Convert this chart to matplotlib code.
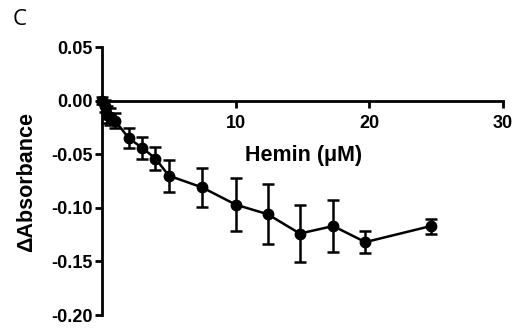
import matplotlib.pyplot as plt

plt.rcParams['font.family'] = ['Liberation Sans', 'DejaVu Sans']

# hemin titration: concentration (uM), change in absorbance, SEM
hemin = [0.0, 0.2, 0.4, 0.6, 1.0, 2.0, 3.0, 4.0, 5.0, 7.5, 10.0, 12.4, 14.8, 17.3, 19.7, 24.6]
d_abs = [0.0, -0.005, -0.013, -0.015, -0.019, -0.035, -0.044, -0.054, -0.070,
         -0.081, -0.097, -0.106, -0.124, -0.117, -0.132, -0.117]
sem = [0.003, 0.006, 0.008, 0.008, 0.007, 0.009, 0.010, 0.011, 0.015,
       0.018, 0.025, 0.028, 0.027, 0.024, 0.010, 0.007]

fig = plt.figure(figsize=(5.27, 3.28), dpi=100)
ax = fig.add_axes([0.1935, 0.0396, 0.761, 0.817])

ax.errorbar(hemin, d_abs, yerr=sem, fmt='-o', color='black', lw=1.8,
            ms=7.5, elinewidth=1.8, capsize=4, capthick=1.8, clip_on=False, zorder=3)

ax.set_xlim(0, 30)
ax.set_ylim(-0.20, 0.05)
ax.set_xticks([0, 10, 20, 30])
ax.set_xticklabels(['', '10', '20', '30'])
ax.set_yticks([0.05, 0.0, -0.05, -0.10, -0.15, -0.20])
ax.set_yticklabels(['0.05', '0.00', '-0.05', '-0.10', '-0.15', '-0.20'])

ax.spines['bottom'].set_position(('data', 0))
ax.spines['top'].set_visible(False)
ax.spines['right'].set_visible(False)
for s in ('left', 'bottom'):
    ax.spines[s].set_linewidth(2)
ax.tick_params(width=2, length=5, labelsize=13)
ax.tick_params(axis='x', pad=5)
ax.tick_params(axis='y', pad=2)
for lab in ax.get_xticklabels() + ax.get_yticklabels():
    lab.set_fontweight('bold')

ax.text(15.1, -0.051, 'Hemin (\u03bcM)', ha='center', va='center',
        fontsize=15.5, fontweight='bold')
ax.text(-0.187, 0.496, '\u0394Absorbance', transform=ax.transAxes, rotation=90,
        ha='center', va='center', fontsize=15.5, fontweight='bold')

fig.text(0.037, 0.942, 'C', fontsize=16, family='Open Sans', ha='center', va='center')

fig.savefig('out.png', dpi=100)
